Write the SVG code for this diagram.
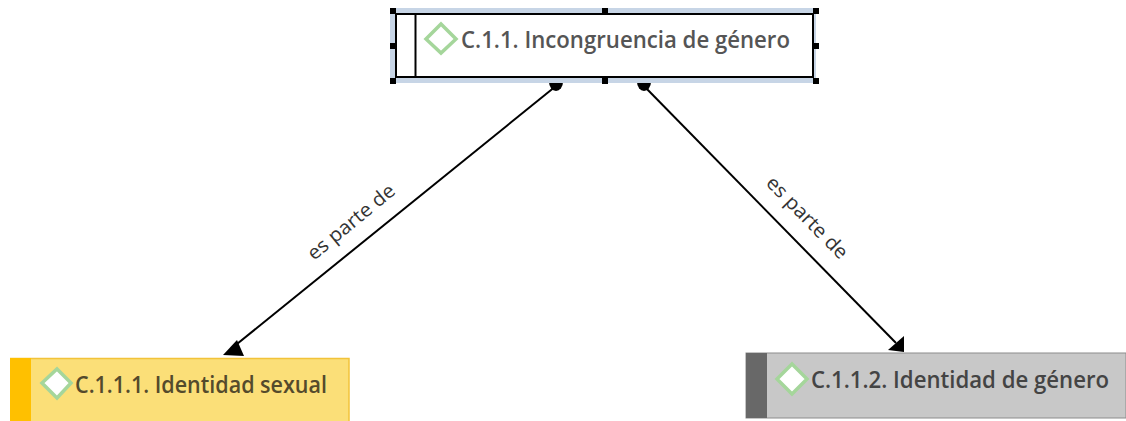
<svg xmlns="http://www.w3.org/2000/svg" width="1126" height="421" viewBox="0 0 1126 421">
<style>
.t{font-family:"Open Sans","Noto Sans","DejaVu Sans",sans-serif;font-weight:600;font-size:23px}
.l{font-family:"Open Sans","Noto Sans","DejaVu Sans",sans-serif;font-size:19.500px;fill:#333}
.h{fill:#000}
.c{stroke:#000;stroke-width:2;fill:none}
.d{stroke:#a5d69b;stroke-width:3.500}
</style>
<rect width="1126" height="421" fill="#fff"/>
<g id="connectors">
<path class="c" d="M556 86L232 348"/>
<path class="c" d="M644 86L896 343"/>
<path d="M549 82h14a7 9 0 0 1-14 0z" fill="#000"/>
<path d="M637 82h14a7 9 0 0 1-14 0z" fill="#000"/>
<path d="M237 340L223 355L244 356z" fill="#000"/>
<path d="M904 336L904 352L888 350z" fill="#000"/>
<text class="l" transform="translate(314 261) rotate(-39.5)" textLength="107" lengthAdjust="spacingAndGlyphs">es parte de</text>
<text class="l" transform="translate(765 184) rotate(45.5)" textLength="107" lengthAdjust="spacingAndGlyphs">es parte de</text>
</g>
<g id="node-c11">
<rect x="390" y="8" width="426" height="75" fill="#c7d5e6"/>
<rect x="396" y="14" width="417" height="63" fill="#fff" stroke="#000" stroke-width="2"/>
<path d="M415.500 14V77" stroke="#000" stroke-width="2"/>
<path class="d" d="M441 24L456 39L441 53L426 39z" fill="#fff"/>
<text class="t" x="461" y="48" fill="#555" textLength="329" lengthAdjust="spacingAndGlyphs">C.1.1. Incongruencia de género</text>
<g class="h">
<rect x="390" y="8" width="6" height="6"/><rect x="602" y="8" width="6" height="6"/><rect x="813" y="8" width="6" height="6"/>
<rect x="390" y="43" width="6" height="6"/><rect x="813" y="43" width="6" height="6"/>
<rect x="390" y="78" width="6" height="6"/><rect x="602" y="78" width="6" height="6"/><rect x="813" y="78" width="6" height="6"/>
</g>
</g>
<g id="node-c111">
<rect x="10" y="358" width="339" height="63" fill="#fbdf78"/>
<path d="M349 421V358.500H10" fill="none" stroke="#f2c33a" stroke-width="1.500"/>
<rect x="10" y="358" width="21" height="63" fill="#ffc000"/>
<path class="d" d="M57 369L71 383L57 398L42 383z" fill="#fff"/>
<text class="t" x="75" y="393" fill="#544a2c" textLength="252" lengthAdjust="spacingAndGlyphs">C.1.1.1. Identidad sexual</text>
</g>
<g id="node-c112">
<rect x="746" y="353" width="380" height="65" fill="#c8c8c8" stroke="#8c8c8c" stroke-width="1"/>
<rect x="746" y="353" width="21" height="65" fill="#686868"/>
<path class="d" d="M792 364L807 379L792 394L777 379z" fill="#fff"/>
<text class="t" x="811" y="388" fill="#444" textLength="298" lengthAdjust="spacingAndGlyphs">C.1.1.2. Identidad de género</text>
</g>
</svg>
